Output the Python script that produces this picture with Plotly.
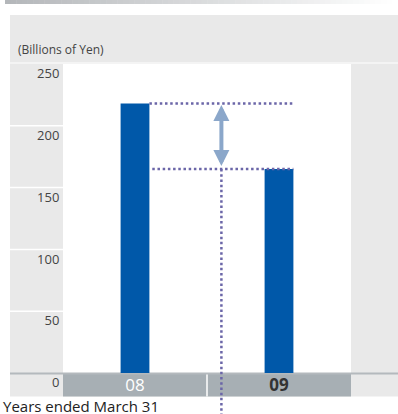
import plotly.graph_objects as go

# ---- data ----
years = ["08", "09"]
sales = [218, 165]
y_ticks = [0, 50, 100, 150, 200, 250]
x_ticktext = ['<span style="color:#ffffff">08</span>', '<b>09</b>']
unit_label = "(Billions of Yen)"
footer_label = "Years ended March 31"
arrow_x = 0.6  # category-index position of the difference marker

# ---- geometry helpers (layout only) ----
W, H = 398, 414
L, R, T, B = 63, 47, 64, 41
PW, PH = W - L - R, H - T - B
Y_RANGE = [0, 250]


def px(x):
    return (x - L) / PW


def py(y):
    return (H - B - y) / PH


def ypaper(v):
    return (v - Y_RANGE[0]) / (Y_RANGE[1] - Y_RANGE[0])


BAR_W = 0.2
BAR_COLOR = "#0058a9"
PANEL = "#e9e9e9"
DOT = "#6b66a8"
TEXT = "#444444"

fig = go.Figure()
fig.add_trace(go.Bar(x=years, y=sales, width=[BAR_W] * len(years),
                     marker=dict(color=BAR_COLOR, line=dict(width=0)),
                     hoverinfo="skip"))

shapes = []
# top gradient strip
n = 70
x0p, x1p = 5, 398
for i in range(n):
    t = i / (n - 1)
    c = [int(round(a + (255 - a) * t)) for a in (180, 183, 186)]
    shapes.append(dict(type="rect", xref="paper", yref="paper",
                       x0=px(x0p + (x1p - x0p) * i / n), x1=px(x0p + (x1p - x0p) * (i + 1) / n + 0.5),
                       y0=py(4), y1=py(0), fillcolor=f"rgb({c[0]},{c[1]},{c[2]})",
                       line=dict(width=0), layer="below"))
# gray panel
shapes.append(dict(type="rect", xref="paper", yref="paper", x0=px(10), x1=px(398),
                   y0=py(396.5), y1=py(15), fillcolor=PANEL, line=dict(width=0), layer="below"))
# white plot area
shapes.append(dict(type="rect", xref="paper", yref="paper", x0=0, x1=1, y0=0, y1=1,
                   fillcolor="white", line=dict(width=0), layer="below"))
# top separator
shapes.append(dict(type="line", xref="paper", yref="paper", x0=px(10), x1=px(398),
                   y0=py(63), y1=py(63), line=dict(color="#f7f7f7", width=1.5), layer="below"))
# left column separators at ticks
for v in y_ticks[1:-1]:
    shapes.append(dict(type="line", xref="paper", yref="y", x0=px(10), x1=0,
                       y0=v, y1=v, line=dict(color="white", width=1.5), layer="below"))
# category band
shapes.append(dict(type="rect", xref="paper", yref="paper", x0=0, x1=1,
                   y0=py(396.5), y1=py(374), fillcolor="#a7afb4", line=dict(width=0), layer="below"))
shapes.append(dict(type="line", xref="paper", yref="paper", x0=0.5, x1=0.5,
                   y0=py(396.5), y1=py(374), line=dict(color="white", width=1.5), layer="below"))
# axis line
shapes.append(dict(type="line", xref="paper", yref="paper", x0=px(10), x1=px(398),
                   y0=py(373.5), y1=py(373.5), line=dict(color="#b4b9bd", width=2), layer="below"))

# dotted reference lines
dot = dict(color=DOT, width=2.5, dash="2.5px,2.7px")
shapes.append(dict(type="line", xref="x", yref="y", x0=0 + BAR_W / 2, x1=1 + BAR_W / 2,
                   y0=sales[0], y1=sales[0], line=dot, layer="above"))
shapes.append(dict(type="line", xref="x", yref="y", x0=0.12, x1=1 + BAR_W / 2,
                   y0=sales[1], y1=sales[1], line=dot, layer="above"))
shapes.append(dict(type="line", xref="x", yref="paper", x0=arrow_x, x1=arrow_x,
                   y0=ypaper(sales[1]), y1=py(420), line=dot, layer="above"))

annotations = [
    dict(x=arrow_x, y=sales[0], ax=arrow_x, ay=sales[1], xref="x", yref="y",
         axref="x", ayref="y", text="", showarrow=True, arrowside="end+start",
         arrowhead=2, startarrowhead=2, arrowsize=0.8, startarrowsize=0.8,
         arrowwidth=4, arrowcolor="#8ba7ca", standoff=1.5, startstandoff=1.5),
    dict(x=px(16), y=py(49), xref="paper", yref="paper", xanchor="left", yanchor="middle",
         text=unit_label, showarrow=False, font=dict(size=12, color=TEXT)),
    dict(x=px(1), y=py(406), xref="paper", yref="paper", xanchor="left", yanchor="middle",
         text=footer_label, showarrow=False, font=dict(size=15, color="#222222")),
]

fig.update_layout(
    width=W, height=H, margin=dict(l=L, r=R, t=T, b=B, pad=0),
    paper_bgcolor="white", plot_bgcolor="white", showlegend=False,
    font=dict(family="Open Sans", color=TEXT),
    shapes=shapes, annotations=annotations,
    xaxis=dict(type="category", range=[-0.5, 1.5], tickvals=years, ticktext=x_ticktext,
               tickfont=dict(size=17, color="#333333"), showgrid=False, zeroline=False,
               showline=False, ticks="", ticklabelstandoff=0,
               fixedrange=True),
    yaxis=dict(range=Y_RANGE, tickvals=y_ticks, ticklabelposition="outside bottom",
               tickfont=dict(size=13, color=TEXT), showgrid=False, zeroline=False,
               showline=False, ticks="outside", ticklen=3, tickcolor="rgba(0,0,0,0)",
               fixedrange=True),
)

fig.write_html("out.html")
